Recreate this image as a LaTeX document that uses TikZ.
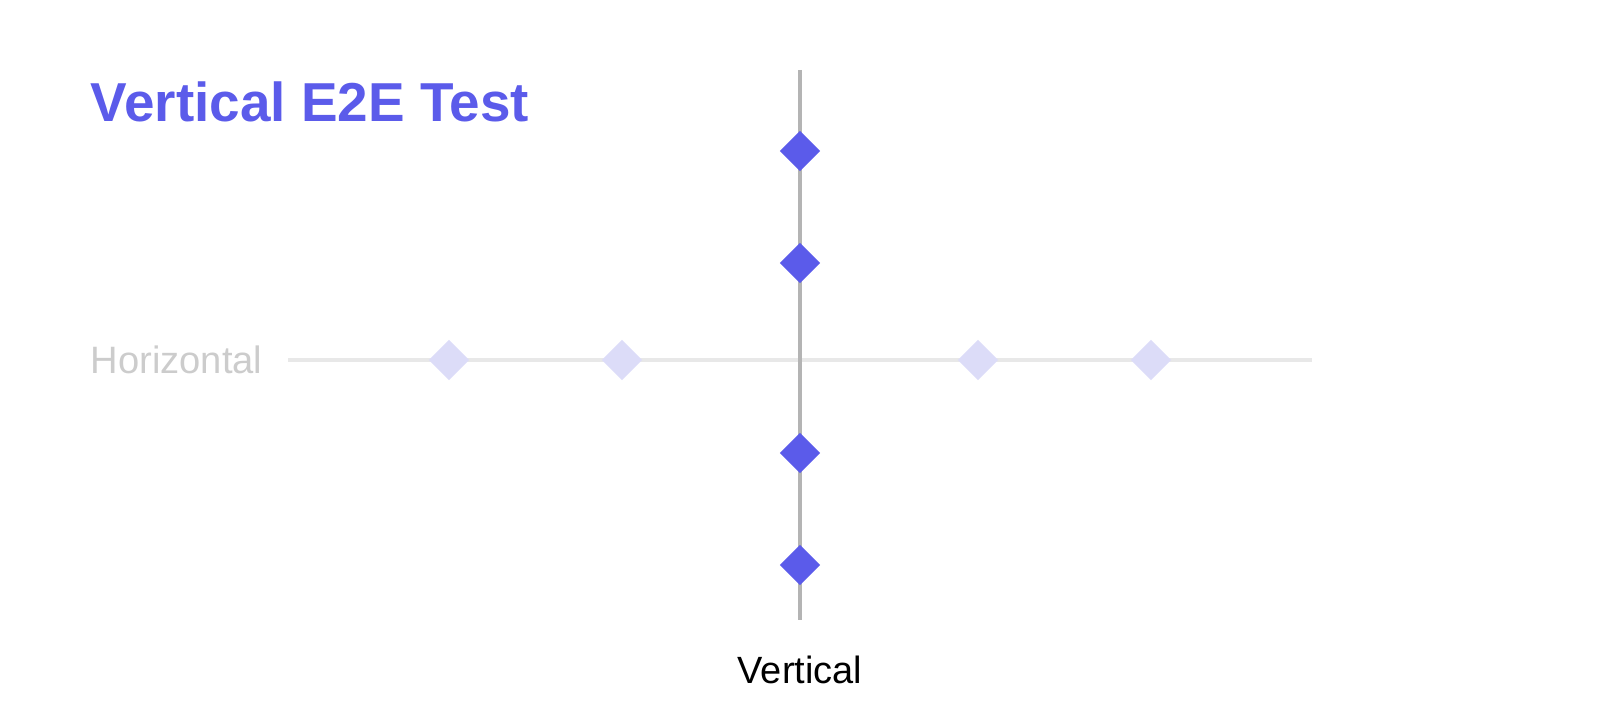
\documentclass[tikz,border=0pt]{standalone}
\usepackage{fontspec}
\setmainfont{Liberation Sans}
\usepackage{tikz}
\usetikzlibrary{shapes.geometric}

\definecolor{accent}{HTML}{5B5BEA}
\definecolor{faded}{HTML}{DCDCF8}
\definecolor{vaxis}{HTML}{B4B4B4}
\definecolor{haxis}{HTML}{E8E8E8}
\definecolor{hlabel}{HTML}{CCCCCC}

\begin{document}
\begin{tikzpicture}[x=0.01cm, y=-0.01cm,
                point/.style = {diamond, fill=accent, inner sep=0pt, minimum size=0.41cm},
                ghost/.style = {diamond, fill=faded, inner sep=0pt, minimum size=0.41cm},
                axis/.style = {line width=1.14pt}]
                \useasboundingbox (0, 0) rectangle (1600, 722);

                \coordinate (Hleft) at (288, 360);
                \coordinate (Hright) at (1312, 360);
                \coordinate (Vtop) at (800, 70);
                \coordinate (Vbottom) at (800, 620);

                \draw[axis, haxis] (Hleft) -- (Hright);
                \draw[axis, vaxis] (Vtop) -- (Vbottom);

                \node[ghost] at (449, 360) (H1) {};
                \node[ghost] at (622, 360) (H2) {};
                \node[ghost] at (978, 360) (H3) {};
                \node[ghost] at (1151, 360) (H4) {};

                \node[point] at (800, 151) (V1) {};
                \node[point] at (800, 263) (V2) {};
                \node[point] at (800, 453) (V3) {};
                \node[point] at (800, 565) (V4) {};

                \node[anchor=base west, inner sep=0pt, text=accent, font=\fontsize{15.6pt}{18pt}\selectfont\bfseries] at (90, 122) (title) {Vertical E2E Test};
                \node[anchor=base west, inner sep=0pt, text=hlabel, font=\fontsize{10.85pt}{13pt}\selectfont] at (90, 374) (hname) {Horizontal};
                \node[anchor=base, inner sep=0pt, text=black, font=\fontsize{10.8pt}{13pt}\selectfont] at (800, 684) (vname) {Vertical};
            \end{tikzpicture}
\end{document}
